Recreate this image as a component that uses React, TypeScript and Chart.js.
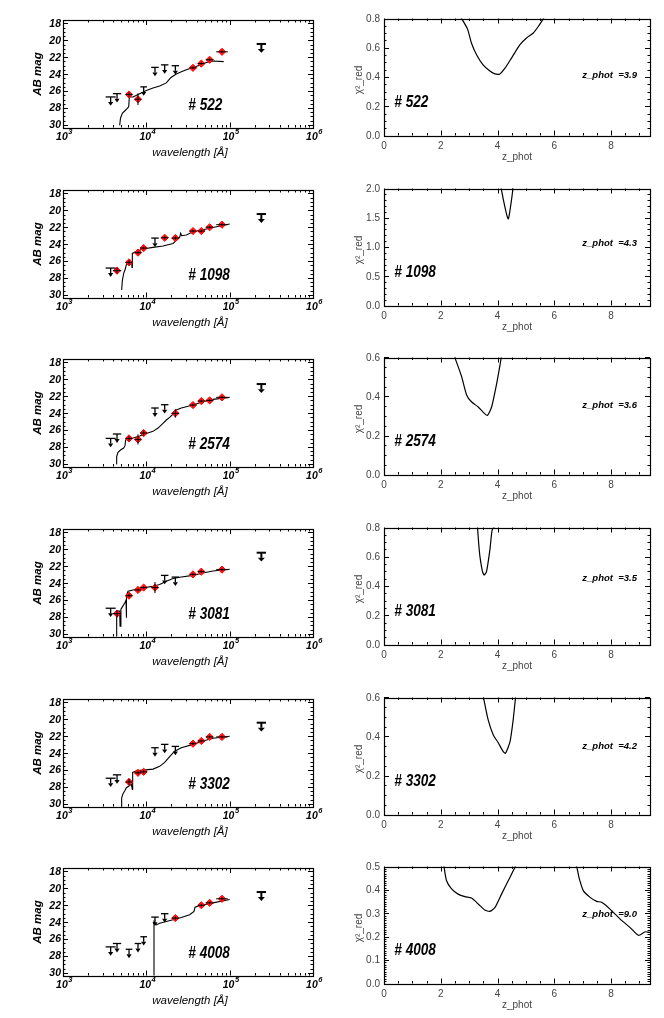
import React, { useEffect, useRef } from "react";
import { Chart, registerables } from "chart.js";
Chart.register(...registerables);

// ---------------- DATA ----------------
const OBJECT_IDS = ["522", "1098", "2574", "3081", "3302", "4008"];
const Z_PHOT = ["3.9", "4.3", "3.6", "3.5", "4.2", "9.0"];

// photometric bands (Angstrom): U, B, r, i, z, J, H, K, 3.6, 4.5, 5.8, 8.0, 24 micron
const BAND_WAVELENGTHS = [3730, 4450, 6200, 7940, 9290, 12700, 16600, 22300, 36300, 45700, 57500, 80900, 240000];
const BAND_HALF_WIDTH_DEX = [0.06, 0.05, 0.04, 0.04, 0.04, 0.045, 0.045, 0.045, 0.04, 0.04, 0.045, 0.07, 0.056];

// D = detection, L = upper limit, N = no data
const MAG_522 = [26.69, 26.3, 26.4, 26.96, 25.5, 23.2, 22.9, 23.0, 23.25, 22.75, 22.3, 21.36, 20.43];
const KIND_522 = ["L", "L", "D", "D", "L", "L", "L", "L", "D", "D", "D", "D", "L"];
const ERR_522 = [0, 0, 0.25, 0.7, 0, 0, 0, 0, 0.15, 0.15, 0.15, 0.15, 0];

const MAG_1098 = [26.82, 27.13, 26.15, 25.0, 24.46, 23.28, 23.24, 23.28, 22.45, 22.45, 22.0, 21.7, 20.44];
const KIND_1098 = ["L", "D", "D", "D", "D", "L", "D", "D", "D", "D", "D", "D", "L"];
const ERR_1098 = [0, 0.3, 0.25, 0.15, 0.15, 0, 0.2, 0.2, 0.15, 0.15, 0.15, 0.15, 0];

const MAG_2574 = [26.98, 26.46, 26.98, 27.1, 26.35, 23.39, 23.0, 24.02, 23.04, 22.57, 22.49, 22.13, 20.56];
const KIND_2574 = ["L", "L", "D", "D", "D", "L", "L", "D", "D", "D", "D", "D", "L"];
const ERR_2574 = [0, 0, 0.25, 0.6, 0.3, 0, 0, 0.5, 0.15, 0.15, 0.15, 0.15, 0];

const MAG_3081 = [26.96, 27.6, 25.48, 24.8, 24.52, 24.52, 23.08, 23.28, 22.96, 22.64, 0, 22.4, 20.4];
const KIND_3081 = ["L", "D", "D", "D", "D", "D", "L", "L", "D", "D", "N", "D", "L"];
const ERR_3081 = [0, 0.4, 0.2, 0.15, 0.15, 0.65, 0, 0, 0.15, 0.15, 0, 0.15, 0];

const MAG_3302 = [26.96, 26.56, 27.4, 26.32, 26.2, 23.36, 22.96, 23.2, 22.88, 22.56, 22.08, 22.08, 20.4];
const KIND_3302 = ["L", "L", "D", "D", "D", "L", "L", "L", "D", "D", "D", "D", "L"];
const ERR_3302 = [0, 0, 0.35, 0.2, 0.2, 0, 0, 0, 0.15, 0.15, 0.15, 0.15, 0];

const MAG_4008 = [26.92, 26.52, 27.2, 26.52, 25.72, 23.4, 23.0, 23.52, 0, 22.0, 21.72, 21.24, 20.44];
const KIND_4008 = ["L", "L", "L", "L", "L", "L", "L", "D", "N", "D", "D", "D", "L"];
const ERR_4008 = [0, 0, 0, 0, 0, 0, 0, 0.2, 0, 0.15, 0.15, 0.15, 0];

// best-fit SED templates (wavelength in Angstrom, AB mag)
const SED_WAVE_522 = [4786, 4898, 5152, 5495, 5916, 6138, 6252, 6918, 8318, 10000, 12023, 14454, 17378, 19055, 19953, 22909, 26303, 30200, 36308, 43652, 52481, 63096, 84723];
const SED_MAG_522 = [30.05, 29.2, 28.62, 28.35, 28.04, 27.85, 26.69, 26.69, 26.3, 25.92, 25.64, 25.41, 25.03, 24.56, 24.37, 23.98, 23.71, 23.48, 23.21, 22.94, 22.63, 22.44, 22.52];

const SED_WAVE_1098 = [5058, 5152, 5346, 5546, 5754, 5970, 6668, 6730, 6792, 7586, 9120, 12023, 15849, 20893, 25119, 25822, 26546, 30200, 36308, 47863, 63096, 100000];
const SED_MAG_1098 = [29.42, 28.31, 27.45, 27.06, 26.43, 26.27, 26.15, 26.74, 25.09, 24.85, 24.57, 24.38, 24.22, 23.91, 23.2, 22.72, 23.0, 22.92, 22.53, 22.29, 22.02, 21.62];

const SED_WAVE_2574 = [4365, 4406, 4571, 4898, 5346, 5546, 5649, 6026, 6918, 8318, 10000, 12023, 13804, 15849, 17378, 19055, 20893, 22909, 26303, 36308, 47863, 63096, 100000];
const SED_MAG_2574 = [30.0, 29.14, 28.63, 28.35, 28.12, 27.84, 27.17, 27.06, 26.94, 26.7, 26.39, 26.15, 25.76, 25.2, 24.81, 24.5, 24.1, 23.63, 23.39, 23.04, 22.65, 22.37, 22.13];

const SED_WAVE_3081 = [4365, 4406, 4613, 4786, 4842, 4955, 5248, 5546, 5702, 5740, 5808, 6026, 6918, 9120, 12023, 14454, 17378, 20893, 26303, 36308, 47863, 63096, 100000];
const SED_MAG_3081 = [30.4, 27.48, 27.28, 27.28, 29.08, 27.08, 26.68, 26.28, 26.0, 28.08, 25.48, 24.96, 24.8, 24.56, 24.36, 24.16, 23.76, 23.44, 23.28, 23.08, 22.8, 22.56, 22.36];

const SED_WAVE_3302 = [5012, 5058, 5248, 5495, 5754, 6194, 6607, 6792, 6855, 7586, 9120, 12023, 14454, 16596, 19055, 21878, 26303, 36308, 47863, 63096, 100000];
const SED_MAG_3302 = [30.4, 29.28, 28.8, 28.48, 28.08, 27.88, 27.68, 28.28, 26.28, 26.08, 26.0, 25.88, 25.56, 25.08, 24.4, 23.76, 23.36, 22.96, 22.56, 22.24, 22.0];

const SED_WAVE_4008 = [12246, 12359, 13183, 14454, 17378, 20893, 26303, 33113, 37325, 38371, 43652, 63096, 100000];
const SED_MAG_4008 = [30.44, 23.92, 24.32, 24.12, 23.92, 23.72, 23.44, 23.12, 22.72, 22.24, 22.04, 21.72, 21.32];

// reduced chi^2 vs photometric redshift
const CHI_Z_522 = [2.7, 2.94, 3.08, 3.26, 3.49, 3.73, 3.91, 4.08, 4.26, 4.49, 4.79, 5.02, 5.26, 5.44, 5.65];
const CHI_V_522 = [0.81, 0.729, 0.632, 0.552, 0.483, 0.441, 0.421, 0.421, 0.46, 0.529, 0.621, 0.667, 0.701, 0.747, 0.81];

const CHI_Z_1098 = [4.12, 4.2, 4.28, 4.34, 4.38, 4.43, 4.49, 4.55];
const CHI_V_1098 = [2.02, 1.82, 1.64, 1.52, 1.48, 1.6, 1.8, 2.02];

const CHI_Z_2574 = [2.47, 2.73, 2.91, 3.08, 3.32, 3.49, 3.64, 3.79, 3.96, 4.08, 4.14];
const CHI_V_2574 = [0.61, 0.504, 0.408, 0.373, 0.346, 0.32, 0.303, 0.346, 0.46, 0.556, 0.61];

const CHI_Z_3081 = [3.29, 3.34, 3.38, 3.47, 3.53, 3.61, 3.73, 3.81, 3.91];
const CHI_V_3081 = [0.81, 0.68, 0.601, 0.498, 0.475, 0.498, 0.647, 0.784, 0.81];

const CHI_Z_3302 = [3.49, 3.67, 3.85, 4.02, 4.2, 4.28, 4.44, 4.55, 4.64];
const CHI_V_3302 = [0.61, 0.485, 0.408, 0.369, 0.322, 0.314, 0.374, 0.485, 0.61];

const CHI_Z_4008 = [2.1, 2.2, 2.38, 2.61, 2.85, 3.08, 3.32, 3.55, 3.73, 3.91, 4.14, 4.38, 4.67, 5.5, 6.75, 6.88, 7.02, 7.26, 7.49, 7.67, 7.96, 8.32, 8.67, 8.96, 9.2, 9.4];
const CHI_V_4008 = [0.51, 0.44, 0.404, 0.382, 0.371, 0.365, 0.34, 0.314, 0.308, 0.325, 0.382, 0.44, 0.51, 0.7, 0.51, 0.447, 0.397, 0.368, 0.351, 0.347, 0.318, 0.275, 0.239, 0.206, 0.221, 0.218];

// axis settings
const MAG_TICKS = [18, 20, 22, 24, 26, 28, 30];
const WAVE_DECADES = [3, 4, 5, 6];
const Z_TICKS = [0, 2, 4, 6, 8];
const CHI_YMAX = [0.8, 2.0, 0.6, 0.8, 0.6, 0.5];
const CHI_YSTEP = [0.2, 0.5, 0.2, 0.2, 0.2, 0.1];
const CHI_YMINOR = [4, 5, 4, 4, 4, 10];

// ---------------- LAYOUT ----------------
const ROW_H = 169.67;
const CW = 332;
const CH = 170;
const SED_AREA = { left: 63, right: 313, top: 20, bottom: 127.5 };
const CHI_AREA = { left: 52, right: 318, top: 18.5, bottom: 135.5 };
const ZLABEL_Y = [75.5, 73.3, 66.3, 69.3, 67.3, 66.3];
const FONT = '"Liberation Sans", Arial, Helvetica, sans-serif';

const OBJECTS = [
  { mag: MAG_522, kind: KIND_522, err: ERR_522, sw: SED_WAVE_522, sm: SED_MAG_522, cz: CHI_Z_522, cv: CHI_V_522 },
  { mag: MAG_1098, kind: KIND_1098, err: ERR_1098, sw: SED_WAVE_1098, sm: SED_MAG_1098, cz: CHI_Z_1098, cv: CHI_V_1098 },
  { mag: MAG_2574, kind: KIND_2574, err: ERR_2574, sw: SED_WAVE_2574, sm: SED_MAG_2574, cz: CHI_Z_2574, cv: CHI_V_2574 },
  { mag: MAG_3081, kind: KIND_3081, err: ERR_3081, sw: SED_WAVE_3081, sm: SED_MAG_3081, cz: CHI_Z_3081, cv: CHI_V_3081 },
  { mag: MAG_3302, kind: KIND_3302, err: ERR_3302, sw: SED_WAVE_3302, sm: SED_MAG_3302, cz: CHI_Z_3302, cv: CHI_V_3302 },
  { mag: MAG_4008, kind: KIND_4008, err: ERR_4008, sw: SED_WAVE_4008, sm: SED_MAG_4008, cz: CHI_Z_4008, cv: CHI_V_4008 },
];

function line(ctx: CanvasRenderingContext2D, x1: number, y1: number, x2: number, y2: number) {
  ctx.beginPath();
  ctx.moveTo(x1, y1);
  ctx.lineTo(x2, y2);
  ctx.stroke();
}

function drawFrame(ctx: CanvasRenderingContext2D, a: any) {
  ctx.save();
  ctx.strokeStyle = "#000";
  ctx.lineWidth = 1.2;
  ctx.strokeRect(Math.round(a.left) + 0.5, Math.round(a.top) + 0.5, Math.round(a.right - a.left), Math.round(a.bottom - a.top));
  ctx.restore();
}

function xTicks(ctx: CanvasRenderingContext2D, a: any, px: number, len: number) {
  const x = Math.round(px) + 0.5;
  line(ctx, x, a.bottom, x, a.bottom - len);
  line(ctx, x, a.top, x, a.top + len);
}
function yTicks(ctx: CanvasRenderingContext2D, a: any, py: number, len: number) {
  const y = Math.round(py) + 0.5;
  line(ctx, a.left, y, a.left + len, y);
  line(ctx, a.right, y, a.right - len, y);
}

function condensedText(ctx: CanvasRenderingContext2D, text: string, x: number, y: number, sx: number) {
  ctx.save();
  ctx.translate(x, y);
  ctx.scale(sx, 1);
  ctx.fillText(text, 0, 0);
  ctx.restore();
}

function sedPlugin(idx: number) {
  const obj = OBJECTS[idx];
  return {
    id: "sedDecor" + idx,
    afterDatasetsDraw(chart: any) {
      const ctx: CanvasRenderingContext2D = chart.ctx;
      const a = chart.chartArea;
      const xs = chart.scales.x;
      const ys = chart.scales.y;
      ctx.save();
      // error bars and upper limits
      ctx.strokeStyle = "#000";
      ctx.fillStyle = "#000";
      BAND_WAVELENGTHS.forEach((w, i) => {
        const k = obj.kind[i];
        if (k === "N") return;
        const m = obj.mag[i];
        const hw = BAND_HALF_WIDTH_DEX[i];
        const x0 = xs.getPixelForValue(w * Math.pow(10, -hw));
        const x1 = xs.getPixelForValue(w * Math.pow(10, hw));
        const px = xs.getPixelForValue(w);
        const py = ys.getPixelForValue(m);
        if (k === "D") {
          ctx.lineWidth = 1;
          line(ctx, x0, py, x1, py);
          const e = obj.err[i];
          if (e > 0) line(ctx, px, ys.getPixelForValue(m - e), px, ys.getPixelForValue(m + e));
        } else {
          const big = i === BAND_WAVELENGTHS.length - 1;
          ctx.lineWidth = big ? 2 : 1.3;
          line(ctx, x0, py, x1, py);
          const yTip = ys.getPixelForValue(m + 1.05);
          const yBase = ys.getPixelForValue(m + 0.6);
          line(ctx, px, py, px, yBase);
          const hwH = big ? 3.5 : 2.6;
          ctx.beginPath();
          ctx.moveTo(px - hwH, yBase);
          ctx.lineTo(px + hwH, yBase);
          ctx.lineTo(px, yTip);
          ctx.closePath();
          ctx.fill();
        }
      });
      ctx.restore();
    },
    afterDraw(chart: any) {
      const ctx: CanvasRenderingContext2D = chart.ctx;
      const a = chart.chartArea;
      const xs = chart.scales.x;
      const ys = chart.scales.y;
      ctx.save();
      drawFrame(ctx, a);
      ctx.strokeStyle = "#000";
      ctx.lineWidth = 1;
      // x ticks (log)
      for (let d = 3; d <= 6; d++) {
        xTicks(ctx, a, xs.getPixelForValue(Math.pow(10, d)), 5);
        if (d < 6) for (let k = 2; k <= 9; k++) xTicks(ctx, a, xs.getPixelForValue(k * Math.pow(10, d)), 2.5);
      }
      // y ticks
      for (let v = 18; v <= 30; v += 0.5) {
        const major = v % 2 === 0;
        yTicks(ctx, a, ys.getPixelForValue(v), major ? 5 : 2.5);
      }
      // y labels
      ctx.fillStyle = "#000";
      ctx.font = `italic bold 10.5px ${FONT}`;
      ctx.textAlign = "right";
      ctx.textBaseline = "middle";
      MAG_TICKS.forEach((v) => ctx.fillText(String(v), a.left - 2, ys.getPixelForValue(v) + 0.5));
      // x labels 10^n
      WAVE_DECADES.forEach((d) => {
        const px = xs.getPixelForValue(Math.pow(10, d));
        ctx.font = `italic bold 10.5px ${FONT}`;
        const w1 = ctx.measureText("10").width;
        ctx.font = `italic bold 7.5px ${FONT}`;
        const w2 = ctx.measureText(String(d)).width;
        const sx = px - (w1 + w2) / 2 + 1;
        ctx.textAlign = "left";
        ctx.font = `italic bold 10.5px ${FONT}`;
        ctx.fillText("10", sx, a.bottom + 9.5);
        ctx.font = `italic bold 7.5px ${FONT}`;
        ctx.fillText(String(d), sx + w1 + 0.5, a.bottom + 4);
      });
      // titles
      ctx.textAlign = "center";
      ctx.font = `italic 11.5px ${FONT}`;
      ctx.fillText("wavelength [Å]", (a.left + a.right) / 2 + 2, 153);
      ctx.save();
      ctx.translate(37.7, 74);
      ctx.rotate(-Math.PI / 2);
      ctx.font = `italic bold 11.5px ${FONT}`;
      ctx.fillText("AB mag", 0, 0);
      ctx.restore();
      // object id
      ctx.textAlign = "left";
      ctx.textBaseline = "alphabetic";
      ctx.font = `italic bold 16px ${FONT}`;
      condensedText(ctx, "# " + OBJECT_IDS[idx], 188.3, 110, 0.85);
      ctx.restore();
    },
  };
}

function chiPlugin(idx: number) {
  return {
    id: "chiDecor" + idx,
    afterDraw(chart: any) {
      const ctx: CanvasRenderingContext2D = chart.ctx;
      const a = chart.chartArea;
      const xs = chart.scales.x;
      const ys = chart.scales.y;
      ctx.save();
      drawFrame(ctx, a);
      ctx.strokeStyle = "#000";
      ctx.lineWidth = 1;
      for (let k = 0; k * 0.5 <= 9.37; k++) xTicks(ctx, a, xs.getPixelForValue(k * 0.5), k % 4 === 0 ? 5 : 2.5);
      const step = CHI_YSTEP[idx];
      const nm = CHI_YMINOR[idx];
      const ymax = CHI_YMAX[idx];
      const nMinor = Math.round((ymax / step) * nm);
      for (let k = 0; k <= nMinor; k++) yTicks(ctx, a, ys.getPixelForValue((k * step) / nm), k % nm === 0 ? 5 : 2.5);
      // labels
      ctx.fillStyle = "#444";
      ctx.font = `10px ${FONT}`;
      ctx.textAlign = "right";
      ctx.textBaseline = "middle";
      const nMajor = Math.round(ymax / step);
      for (let k = 0; k <= nMajor; k++) ctx.fillText((k * step).toFixed(1), a.left - 4, ys.getPixelForValue(k * step) + 0.5);
      ctx.textAlign = "center";
      Z_TICKS.forEach((v) => ctx.fillText(String(v), xs.getPixelForValue(v), a.bottom + 11));
      ctx.fillText("z_phot", (a.left + a.right) / 2, 157);
      ctx.save();
      ctx.translate(27.3, 80);
      ctx.rotate(-Math.PI / 2);
      ctx.fillText("χ²_red", 0, 0);
      ctx.restore();
      // annotations
      ctx.fillStyle = "#000";
      ctx.textAlign = "left";
      ctx.textBaseline = "alphabetic";
      ctx.font = `italic bold 16px ${FONT}`;
      condensedText(ctx, "# " + OBJECT_IDS[idx], 62.3, 106.5, 0.85);
      ctx.textBaseline = "middle";
      ctx.font = `italic bold 9.5px ${FONT}`;
      ctx.fillText("z_phot  =" + Z_PHOT[idx], 250.3, ZLABEL_Y[idx]);
      ctx.restore();
    },
  };
}

function SedPanel({ idx }: { idx: number }) {
  const ref = useRef<HTMLCanvasElement>(null);
  useEffect(() => {
    const obj = OBJECTS[idx];
    const det: { x: number; y: number }[] = [];
    BAND_WAVELENGTHS.forEach((w, i) => {
      if (obj.kind[i] === "D") det.push({ x: w, y: obj.mag[i] });
    });
    const sed = obj.sw.map((w, i) => ({ x: w, y: obj.sm[i] }));
    const chart = new Chart(ref.current!, {
      type: "scatter",
      data: {
        datasets: [
          { type: "scatter", data: det, pointStyle: "rectRot", pointRadius: 3.6, backgroundColor: "#ff1a1a", borderColor: "#ff0000", borderWidth: 1 } as any,
          { type: "line", data: sed, borderColor: "#000", borderWidth: 1.1, pointRadius: 0, tension: 0, fill: false } as any,
        ],
      },
      options: {
        animation: false,
        responsive: false,
        events: [],
        layout: { padding: { left: SED_AREA.left, right: CW - SED_AREA.right, top: SED_AREA.top, bottom: CH - SED_AREA.bottom } },
        scales: {
          x: { type: "logarithmic", min: 1000, max: 1e6, display: false },
          y: { type: "linear", min: 17.6, max: 30.3, reverse: true, display: false },
        },
        plugins: { legend: { display: false }, tooltip: { enabled: false } },
      } as any,
      plugins: [sedPlugin(idx)],
    });
    return () => chart.destroy();
  }, [idx]);
  return (
    <canvas
      ref={ref}
      width={CW}
      height={CH}
      style={{ position: "absolute", left: 0, top: Math.round(idx * ROW_H), width: CW, height: CH }}
    />
  );
}

function ChiPanel({ idx }: { idx: number }) {
  const ref = useRef<HTMLCanvasElement>(null);
  useEffect(() => {
    const obj = OBJECTS[idx];
    const pts = obj.cz.map((z, i) => ({ x: z, y: obj.cv[i] }));
    const chart = new Chart(ref.current!, {
      type: "line",
      data: {
        datasets: [{ data: pts, borderColor: "#000", borderWidth: 1.2, pointRadius: 0, tension: 0.2, fill: false } as any],
      },
      options: {
        animation: false,
        responsive: false,
        events: [],
        layout: { padding: { left: CHI_AREA.left, right: CW - CHI_AREA.right, top: CHI_AREA.top, bottom: CH - CHI_AREA.bottom } },
        scales: {
          x: { type: "linear", min: 0, max: 9.37, display: false },
          y: { type: "linear", min: 0, max: CHI_YMAX[idx], display: false },
        },
        plugins: { legend: { display: false }, tooltip: { enabled: false } },
      } as any,
      plugins: [chiPlugin(idx)],
    });
    return () => chart.destroy();
  }, [idx]);
  return (
    <canvas
      ref={ref}
      width={CW}
      height={CH}
      style={{ position: "absolute", left: CW, top: Math.round(idx * ROW_H), width: CW, height: CH }}
    />
  );
}

export default function App() {
  return (
    <div style={{ position: "absolute", left: 0, top: 0, width: 664, height: 1018, background: "#fff", overflow: "hidden" }}>
      {OBJECT_IDS.map((id, i) => (
        <React.Fragment key={id}>
          <SedPanel idx={i} />
          <ChiPanel idx={i} />
        </React.Fragment>
      ))}
    </div>
  );
}
